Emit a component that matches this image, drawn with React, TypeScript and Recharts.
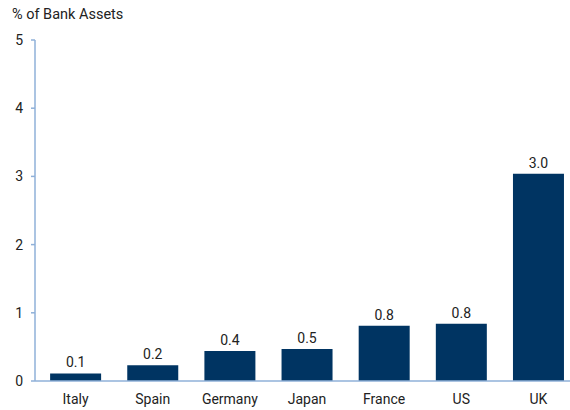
import React from "react";
import { BarChart, Bar, XAxis, YAxis, LabelList } from "recharts";

const countries = ["Italy", "Spain", "Germany", "Japan", "France", "US", "UK"];
const shares = [0.11, 0.23, 0.44, 0.47, 0.81, 0.84, 3.04];
const yTicks = [0, 1, 2, 3, 4, 5];

const data = countries.map((c, i) => ({ country: c, value: shares[i] }));

const FONT = "Roboto, 'DejaVu Sans', sans-serif";
const AXIS = "#8fb0d8";
const BAR = "#003462";
const TEXT = "#222222";
const txt = { fill: TEXT, fontSize: 14, fontFamily: FONT } as any;

export default function App() {
  return (
    <div style={{ position: "absolute", left: 0, top: 0, width: 570, height: 410, overflow: "hidden", fontFamily: FONT }}>
      <div style={{ position: "absolute", left: 12, top: 6, fontSize: 14.5, color: TEXT, fontFamily: FONT }}>
        % of Bank Assets
      </div>
      <BarChart
        width={580}
        height={410}
        data={data}
        margin={{ top: 40, right: 3, bottom: 0, left: 0 }}
        barCategoryGap="17%"
      >
        <XAxis
          dataKey="country"
          height={29}
          padding={{ left: 2, right: 0 }}
          axisLine={{ stroke: AXIS, strokeWidth: 1.5 }}
          tickLine={false}
          tickSize={8}
          tickMargin={5}
          tick={txt}
          interval={0}
        />
        <YAxis
          width={35}
          domain={[0, 5]}
          ticks={yTicks}
          interval={0}
          axisLine={{ stroke: AXIS, strokeWidth: 1.5 }}
          tickLine={{ stroke: AXIS, strokeWidth: 1.5 }}
          tickSize={4}
          tickMargin={8}
          tick={txt}
        />
        <Bar dataKey="value" fill={BAR} isAnimationActive={false}>
          <LabelList
            dataKey="value"
            position="top"
            offset={6}
            formatter={(v: any) => Number(v).toFixed(1)}
            style={txt}
          />
        </Bar>
      </BarChart>
    </div>
  );
}
